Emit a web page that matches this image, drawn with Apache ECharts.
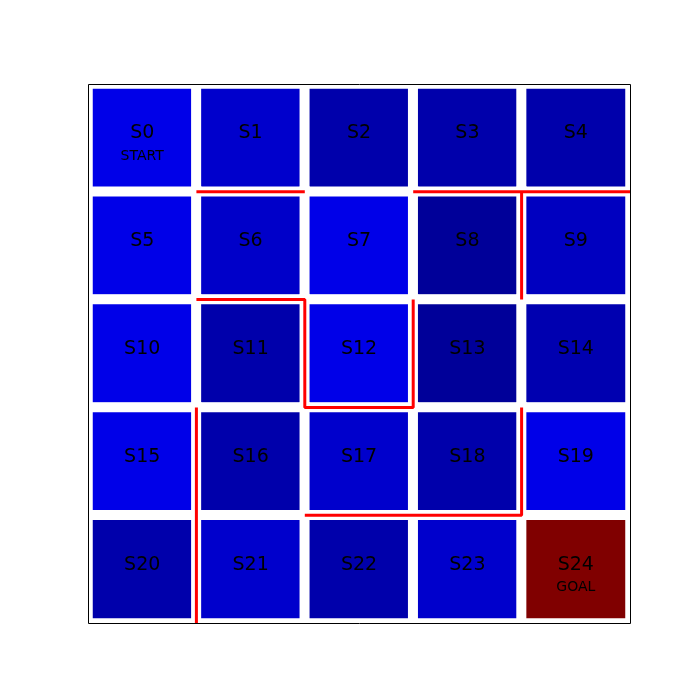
<!DOCTYPE html>
<html>
<head>
<meta charset="utf-8">
<script src="https://cdn.jsdelivr.net/npm/echarts@6/dist/echarts.min.js"></script>
<style>
  html, body { margin: 0; padding: 0; background: #fff; }
  #chart { width: 700px; height: 700px; }
</style>
</head>
<body>
<div id="chart"></div>
<script>
// grid of 5x5 states, value per state (row by row)
const states = ['S0', 'S1', 'S2', 'S3', 'S4', 'S5', 'S6', 'S7', 'S8', 'S9',
  'S10', 'S11', 'S12', 'S13', 'S14', 'S15', 'S16', 'S17', 'S18', 'S19',
  'S20', 'S21', 'S22', 'S23', 'S24']
const values = [
  0.102, 0.075, 0.042, 0.042, 0.042,
  0.102, 0.072, 0.102, 0.025, 0.063,
  0.102, 0.042, 0.102, 0.025, 0.047,
  0.102, 0.042, 0.075, 0.042, 0.102,
  0.042, 0.075, 0.042, 0.075, 1.0
]
const subtitles = { 0: 'START', 24: 'GOAL' }
const cols = ['0', '1', '2', '3', '4']
const rows = ['0', '1', '2', '3', '4']

// walls along cell boundaries, in grid units (x = column edge, y = row edge)
const walls = [
  [[1, 1], [2, 1]],
  [[3, 1], [5, 1]],
  [[4, 1], [4, 2]],
  [[1, 2], [2, 2], [2, 3], [3, 3], [3, 2]],
  [[1, 3], [1, 5]],
  [[4, 3], [4, 4], [2, 4]]
]

// jet colormap stops at 0, 0.125, ... 1
const jet = ['#000080', '#0000ff', '#0080ff', '#15ffe2', '#7aff7a',
  '#e2ff15', '#ff9700', '#ff2200', '#800000']

const cells = values.map((v, i) => [i % 5, Math.floor(i / 5), v])

const chart = echarts.init(document.getElementById('chart'), null, { renderer: 'canvas' })

const gridBox = { left: 88, top: 84, width: 542, height: 539 }

chart.setOption({
  animation: false,
  textStyle: { fontFamily: 'DejaVu Sans' },
  grid: Object.assign({ show: false }, gridBox),
  // frame drawn on top so the cell borders don't hide it
  graphic: [{
    type: 'rect',
    shape: { x: gridBox.left + 0.5, y: gridBox.top + 0.5, width: gridBox.width, height: gridBox.height },
    style: { fill: null, stroke: '#000', lineWidth: 1 },
    z: 100,
    silent: true
  }],
  xAxis: [
    { type: 'category', data: cols, show: false },
    { type: 'value', min: 0, max: 5, show: false }
  ],
  yAxis: [
    { type: 'category', data: rows, inverse: true, show: false },
    { type: 'value', min: 0, max: 5, inverse: true, show: false }
  ],
  visualMap: {
    show: false,
    min: 0,
    max: 1,
    dimension: 2,
    seriesIndex: 0,
    inRange: { color: jet }
  },
  series: [
    {
      type: 'heatmap',
      data: cells,
      itemStyle: { borderColor: '#fff', borderWidth: 10 },
      emphasis: { disabled: true },
      label: {
        show: true,
        offset: [0, 7],
        formatter: (p) => {
          const i = p.value[1] * 5 + p.value[0]
          return '{a|' + states[i] + '}\n{b|' + (subtitles[i] || ' ') + '}'
        },
        rich: {
          a: { fontSize: 19, lineHeight: 23, color: '#000', fontFamily: 'DejaVu Sans' },
          b: { fontSize: 14, lineHeight: 23, color: '#000', fontFamily: 'DejaVu Sans' }
        }
      }
    },
    ...walls.map((w) => ({
      type: 'line',
      xAxisIndex: 1,
      yAxisIndex: 1,
      data: w,
      symbol: 'none',
      lineStyle: { color: '#ff0000', width: 3 },
      z: 5
    }))
  ]
})
</script>
</body>
</html>
